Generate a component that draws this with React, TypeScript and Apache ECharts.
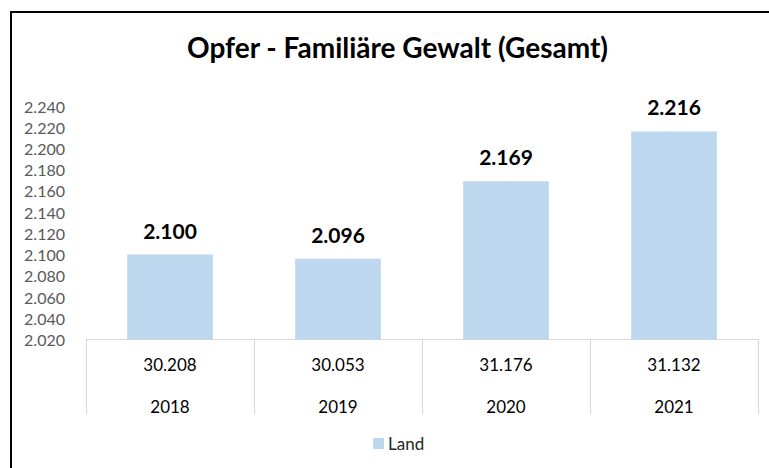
import React, { useEffect, useRef } from "react";
import * as echarts from "echarts";

const categories = ["2018", "2019", "2020", "2021"];
const victims = [2100, 2096, 2169, 2216];
const tableValues = [30208, 30053, 31176, 31132];
const seriesName = "Land";
const titleText = "Opfer - Familiäre Gewalt (Gesamt)";

const fmt = (v: number) => {
  const s = Math.round(v).toString();
  return s.replace(/\B(?=(\d{3})+(?!\d))/g, ".");
};

const FONT = "Lato";

export default function App() {
  const ref = useRef<HTMLDivElement>(null);
  useEffect(() => {
    if (!ref.current) return;
    const chart = echarts.init(ref.current, null, { renderer: "svg" });
    chart.setOption({
      animation: false,
      textStyle: { fontFamily: FONT },
      title: {
        text: titleText,
        left: 182,
        top: 28,
        textStyle: { fontFamily: FONT, fontSize: 28, fontWeight: "bold", color: "#000" },
      },
      graphic: [
        {
          type: "rect",
          shape: { x: 11, y: 12, width: 900, height: 600 },
          style: { fill: "none", stroke: "#000", lineWidth: 2 },
          silent: true,
        },
      ],
      legend: {
        bottom: 11,
        left: 368,
        itemWidth: 11,
        itemHeight: 11,
        itemGap: 4,
        icon: "rect",
        textStyle: { fontFamily: FONT, fontSize: 17, color: "#262626", padding: [0, 0, 0, -1] },
        data: [seriesName],
      },
      grid: { left: 86, right: 11, top: 106, bottom: 128.5 },
      xAxis: {
        type: "category",
        data: categories,
        axisLine: { show: true, lineStyle: { color: "#D9D9D9", width: 1 } },
        axisTick: { show: true, length: 75, lineStyle: { color: "#D9D9D9", width: 1 } },
        axisLabel: {
          margin: 4,
          fontFamily: FONT,
          fontSize: 17,
          color: "#000",
          lineHeight: 42,
          formatter: (v: string, i: number) => fmt(tableValues[i]) + "\n" + v,
        },
      },
      yAxis: {
        type: "value",
        min: 2020,
        max: 2240,
        interval: 20,
        splitLine: { show: false },
        axisLine: { show: false },
        axisTick: { show: false },
        axisLabel: {
          margin: 21,
          fontFamily: FONT,
          fontSize: 16,
          color: "#595959",
          formatter: (v: number) => fmt(v),
        },
      },
      series: [
        {
          name: seriesName,
          type: "bar",
          data: victims,
          barWidth: "51%",
          itemStyle: { color: "#BDD7EE" },
          label: {
            show: true,
            position: "top",
            distance: 14,
            fontFamily: FONT,
            fontSize: 21,
            fontWeight: "bold",
            color: "#000",
            formatter: (p: any) => fmt(p.value),
          },
        },
      ],
    });
    return () => chart.dispose();
  }, []);
  return (
    <div
      ref={ref}
      style={{ position: "absolute", left: 0, top: 0, width: 769, height: 468, background: "#fff" }}
    />
  );
}
